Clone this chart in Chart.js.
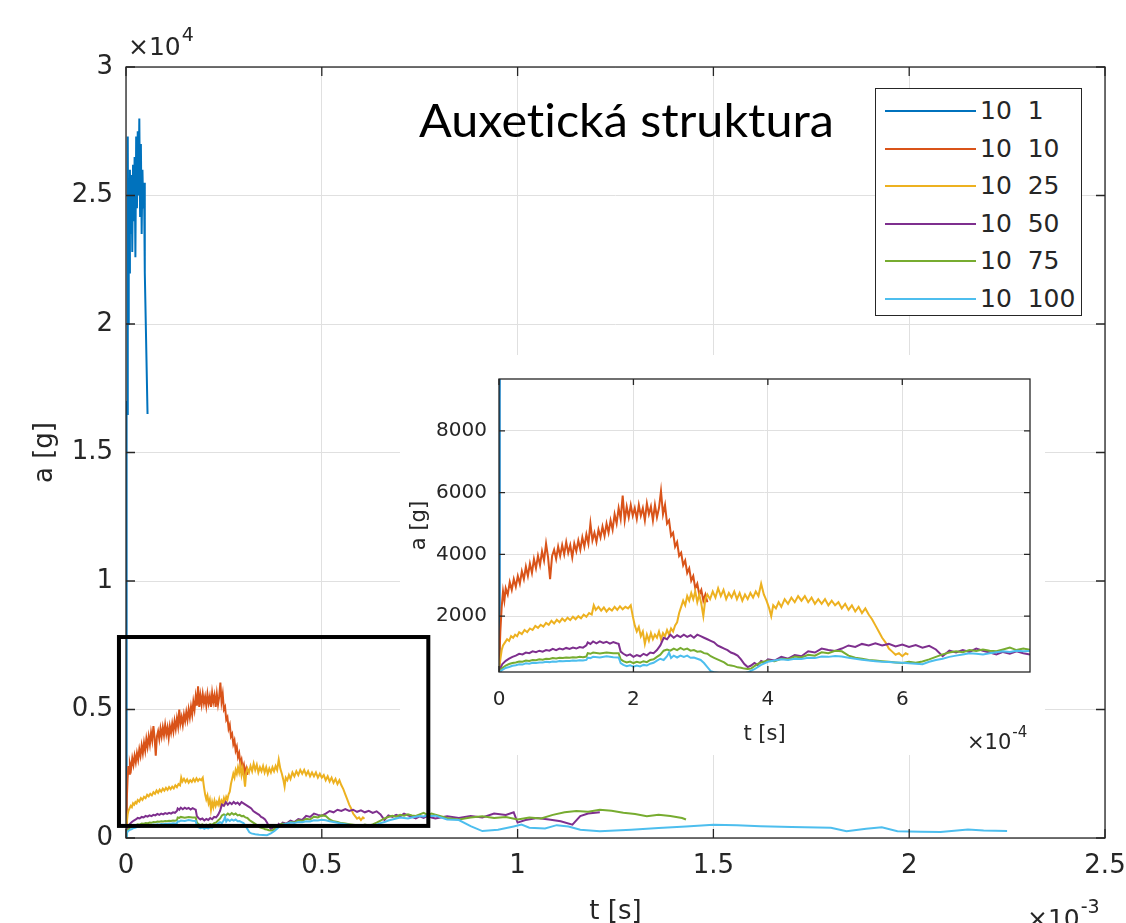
<!DOCTYPE html>
<html>
<head>
<meta charset="utf-8">
<script src="https://cdn.jsdelivr.net/npm/chart.js@4.4.1/dist/chart.umd.min.js"></script>
<style>
  body { margin: 0; background: #fff; }
  #wrap { position: relative; width: 1126px; height: 923px; overflow: hidden; }
  #mainChart { position: absolute; left: 0; top: 0; }
  #insetChart { position: absolute; left: 400px; top: 355px; }
  #title { position: absolute; left: 419px; top: 97px; font-family: Lato, sans-serif; font-size: 46px; line-height: 46px; color: #000; white-space: nowrap; transform: scaleX(1.055); transform-origin: left top; font-variant-ligatures: none; }
  #legend { position: absolute; left: 875px; top: 88px; width: 205px; height: 226px; border: 1.5px solid #262626; background: #fff; }
  #legend .row { position: absolute; left: 0; width: 205px; height: 26px; }
  #legend .swatch { position: absolute; left: 9px; top: 12px; width: 91px; height: 2px; }
  #legend .txt { position: absolute; left: 104px; top: 0; font-family: "DejaVu Sans", sans-serif; font-size: 25px; line-height: 26px; color: #262626; white-space: pre; }
</style>
</head>
<body>
<div id="wrap">
  <canvas id="mainChart" width="1126" height="923"></canvas>
  <canvas id="insetChart" width="645" height="400"></canvas>
  <div id="title">Auxetická struktura</div>
  <div id="legend"></div>
</div>
<script>
// series: [t in ms, a in g]
const seriesLabels = ['10  1', '10  10', '10  25', '10  50', '10  75', '10  100'];

const s1 = [[0,0],[0.001,9000],[0.002,17000],[0.003,16500],[0.004,24000],[0.005,27300],[0.006,20000],
  [0.007,25500],[0.008,22000],[0.010,26000],[0.012,23500],[0.014,25800],[0.016,22800],[0.018,26200],
  [0.020,24000],[0.022,26500],[0.024,22600],[0.026,27300],[0.028,24500],[0.030,27500],[0.032,25000],
  [0.034,28000],[0.036,24200],[0.038,27000],[0.040,23500],[0.042,26000],[0.044,24500],[0.046,25500],
  [0.048,22000],[0.055,16500]];

const s10 = [[0,300],[0.002,1500],[0.004,2300],[0.006,2800],[0.008,2500],[0.010,2900],[0.013,2700],
  [0.016,3100],[0.019,2850],[0.022,3200],[0.025,2950],[0.028,3300],[0.031,3050],[0.034,3450],[0.037,3200],
  [0.040,3600],[0.043,3300],[0.046,3700],[0.049,3400],[0.052,3850],[0.055,3550],[0.058,3950],[0.061,3650],
  [0.064,4100],[0.067,3800],[0.070,4350],[0.073,3900],[0.076,3200],[0.079,3950],[0.082,4150],[0.085,3850],
  [0.088,4250],[0.091,3950],[0.094,4300],[0.097,4000],[0.100,4400],[0.103,4050],[0.106,4300],[0.109,3900],
  [0.112,4350],[0.115,4100],[0.118,4450],[0.121,4150],[0.124,4550],[0.127,4250],[0.130,4650],[0.133,4350],
  [0.136,5000],[0.139,4450],[0.142,4700],[0.145,4400],[0.148,4800],[0.151,4550],[0.154,4900],[0.157,4600],
  [0.160,5000],[0.163,4700],[0.166,5100],[0.169,4800],[0.172,5300],[0.175,5000],[0.178,5500],[0.181,5150],
  [0.184,5900],[0.187,5100],[0.190,5550],[0.193,5200],[0.196,5600],[0.199,5250],[0.202,5500],[0.205,5150],
  [0.208,5600],[0.211,5250],[0.214,5500],[0.217,5100],[0.220,5650],[0.223,5300],[0.226,5550],[0.229,5100],
  [0.232,5600],[0.235,5200],[0.238,5500],[0.241,6050],[0.244,5300],[0.247,5600],[0.250,5000],[0.253,5100],
  [0.256,4600],[0.259,4700],[0.262,4250],[0.265,4400],[0.268,3950],[0.271,4050],[0.274,3650],[0.277,3800],
  [0.280,3400],[0.283,3550],[0.286,3150],[0.289,3300],[0.292,2900],[0.295,3050],[0.298,2700],[0.301,2850],
  [0.304,2500],[0.307,2700],[0.310,2450]];

const s25 = [[0,200],[0.002,600],[0.004,900],[0.006,1050],[0.009,1150],[0.012,1250],[0.015,1200],[0.018,1350],
  [0.021,1300],[0.024,1400],[0.027,1350],[0.030,1480],[0.034,1420],[0.038,1550],[0.042,1480],[0.046,1600],
  [0.050,1550],[0.054,1680],[0.058,1620],[0.062,1720],[0.066,1660],[0.070,1780],[0.074,1720],[0.078,1850],
  [0.082,1760],[0.086,1880],[0.090,1800],[0.094,1920],[0.098,1840],[0.102,1950],[0.106,1870],[0.110,1980],
  [0.114,1900],[0.118,2000],[0.122,1930],[0.126,2050],[0.130,1980],[0.134,2100],[0.138,2050],[0.141,2350],
  [0.144,2200],[0.148,2300],[0.152,2180],[0.156,2280],[0.160,2150],[0.164,2250],[0.168,2180],[0.172,2300],
  [0.176,2200],[0.180,2320],[0.184,2220],[0.188,2300],[0.192,2250],[0.196,2350],[0.199,2000],[0.202,1700],
  [0.205,1500],[0.208,1650],[0.211,1350],[0.214,1500],[0.217,1100],[0.220,1400],[0.223,1200],[0.226,1450],
  [0.229,1250],[0.232,1400],[0.235,1300],[0.238,1500],[0.241,1250],[0.244,1450],[0.247,1350],[0.250,1550],
  [0.253,1400],[0.256,1600],[0.259,1500],[0.262,1700],[0.265,1800],[0.268,2100],[0.271,2300],[0.274,2500],
  [0.277,2350],[0.280,2650],[0.283,2500],[0.286,2750],[0.289,2550],[0.292,2800],[0.295,2450],[0.298,2700],
  [0.301,2400],[0.304,2000],[0.307,2550],[0.310,2700],[0.314,2550],[0.318,2800],[0.322,2600],[0.326,2900],
  [0.330,2650],[0.334,2850],[0.338,2550],[0.342,2750],[0.346,2600],[0.350,2800],[0.354,2550],[0.358,2750],
  [0.362,2500],[0.366,2700],[0.370,2550],[0.374,2750],[0.378,2600],[0.382,2800],[0.386,2650],[0.390,3050],
  [0.394,2700],[0.398,2500],[0.402,2250],[0.405,2000],[0.408,2350],[0.412,2250],[0.416,2450],[0.420,2300],
  [0.425,2550],[0.430,2400],[0.435,2600],[0.440,2450],[0.445,2650],[0.450,2500],[0.455,2650],[0.460,2450],
  [0.465,2600],[0.470,2400],[0.475,2550],[0.480,2400],[0.485,2550],[0.490,2350],[0.495,2500],[0.500,2350],
  [0.505,2450],[0.510,2250],[0.515,2400],[0.520,2200],[0.525,2350],[0.530,2150],[0.535,2300],[0.540,2100],
  [0.545,2250],[0.550,2050],[0.555,1900],[0.560,1700],[0.565,1500],[0.570,1300],[0.575,1150],[0.580,950],
  [0.585,850],[0.590,750],[0.595,800],[0.600,700],[0.605,800],[0.609,750]];

const s50 = [[0,150],[0.002,300],[0.005,450],[0.010,550],[0.015,620],[0.020,680],[0.025,720],[0.030,780],
  [0.035,760],[0.040,820],[0.045,800],[0.050,860],[0.055,830],[0.060,880],[0.065,850],[0.070,900],[0.075,880],
  [0.080,940],[0.085,900],[0.090,950],[0.095,920],[0.100,970],[0.105,940],[0.110,980],[0.115,950],[0.120,1000],
  [0.125,980],[0.130,1050],[0.132,1150],[0.136,1100],[0.140,1180],[0.145,1120],[0.150,1180],[0.155,1130],
  [0.160,1170],[0.165,1110],[0.170,1160],[0.175,1120],[0.178,1100],[0.181,850],[0.185,780],[0.190,720],
  [0.195,760],[0.200,680],[0.205,740],[0.210,700],[0.215,780],[0.220,730],[0.225,820],[0.230,800],[0.235,900],
  [0.240,1050],[0.245,1300],[0.250,1250],[0.255,1400],[0.260,1300],[0.265,1380],[0.270,1320],[0.275,1400],
  [0.280,1330],[0.285,1380],[0.290,1300],[0.295,1400],[0.300,1350],[0.305,1300],[0.310,1250],[0.315,1200],
  [0.320,1150],[0.325,1050],[0.330,1000],[0.335,950],[0.340,900],[0.345,820],[0.350,780],[0.355,720],
  [0.360,600],[0.365,450],[0.370,350],[0.375,400],[0.380,480],[0.385,420],[0.390,550],[0.395,500],[0.400,600],
  [0.410,560],[0.420,680],[0.430,620],[0.440,740],[0.450,700],[0.460,860],[0.470,820],[0.480,950],[0.490,900],
  [0.500,870],[0.510,950],[0.520,1050],[0.530,1000],[0.540,1100],[0.550,1050],[0.560,1120],[0.570,1050],
  [0.580,1100],[0.590,1020],[0.600,1080],[0.610,1000],[0.620,1060],[0.630,980],[0.640,1040],[0.650,920],
  [0.660,700],[0.670,880],[0.680,820],[0.690,900],[0.700,840],[0.710,950],[0.720,880],[0.730,820],[0.740,760],
  [0.750,840],[0.760,780],[0.770,860],[0.780,800],[0.790,760],[0.820,850],[0.850,780],[0.880,860],[0.910,800],
  [0.940,950],[0.970,900],[0.990,1000],[1.000,600],[1.020,700],[1.050,780],[1.080,720],[1.110,650],
  [1.140,520],[1.160,850],[1.180,950],[1.210,1000]];

const s75 = [[0,100],[0.002,250],[0.005,320],[0.010,400],[0.015,450],[0.020,480],[0.025,500],[0.030,530],
  [0.035,520],[0.040,560],[0.045,550],[0.050,580],[0.055,570],[0.060,600],[0.065,590],[0.070,620],[0.075,610],
  [0.080,640],[0.085,630],[0.090,650],[0.095,640],[0.100,660],[0.105,650],[0.110,670],[0.115,660],[0.120,680],
  [0.125,670],[0.130,690],[0.132,800],[0.136,780],[0.140,820],[0.150,790],[0.160,820],[0.170,800],[0.178,800],
  [0.181,600],[0.185,540],[0.190,500],[0.195,530],[0.200,480],[0.205,520],[0.210,490],[0.215,540],[0.220,510],
  [0.225,580],[0.230,600],[0.235,680],[0.240,750],[0.245,880],[0.250,920],[0.255,880],[0.260,950],[0.265,900],
  [0.270,970],[0.275,910],[0.280,950],[0.285,880],[0.290,900],[0.295,850],[0.300,860],[0.305,800],[0.310,780],
  [0.315,700],[0.320,650],[0.325,600],[0.330,550],[0.335,500],[0.340,420],[0.345,400],[0.350,380],[0.355,340],
  [0.360,330],[0.365,300],[0.370,290],[0.375,300],[0.380,380],[0.385,450],[0.390,500],[0.400,560],[0.410,540],
  [0.420,620],[0.430,600],[0.440,690],[0.450,660],[0.460,750],[0.470,720],[0.480,830],[0.490,800],[0.500,880],
  [0.510,860],[0.520,720],[0.530,650],[0.540,620],[0.550,580],[0.560,560],[0.570,540],[0.580,520],[0.590,500],
  [0.600,480],[0.610,520],[0.620,490],[0.630,530],[0.640,600],[0.650,680],[0.660,760],[0.670,820],[0.680,860],
  [0.690,830],[0.700,900],[0.710,870],[0.720,920],[0.730,880],[0.740,860],[0.750,920],[0.760,980],[0.770,900],
  [0.780,950],[0.790,910],[0.820,780],[0.850,720],[0.880,800],[0.910,850],[0.940,780],[0.970,820],[1.000,720],
  [1.030,800],[1.060,760],[1.090,900],[1.120,1000],[1.150,1050],[1.180,1020],[1.210,1100],[1.240,1060],
  [1.270,980],[1.300,930],[1.330,850],[1.360,900],[1.390,860],[1.420,780],[1.430,720]];

const s100 = [[0,80],[0.002,200],[0.005,260],[0.010,320],[0.015,350],[0.020,390],[0.025,410],[0.030,440],
  [0.035,430],[0.040,470],[0.045,460],[0.050,490],[0.055,480],[0.060,500],[0.065,495],[0.070,520],[0.075,510],
  [0.080,530],[0.085,520],[0.090,545],[0.095,535],[0.100,550],[0.105,545],[0.110,560],[0.115,555],[0.120,570],
  [0.125,560],[0.130,580],[0.132,650],[0.136,640],[0.140,680],[0.150,660],[0.160,700],[0.170,670],[0.178,660],
  [0.181,480],[0.185,420],[0.190,380],[0.195,410],[0.200,360],[0.205,400],[0.210,370],[0.215,420],[0.220,400],
  [0.225,460],[0.230,490],[0.235,560],[0.240,620],[0.245,580],[0.250,700],[0.253,820],[0.256,640],[0.260,720],
  [0.265,660],[0.270,720],[0.275,680],[0.280,720],[0.285,650],[0.290,660],[0.295,620],[0.300,580],[0.305,480],
  [0.310,350],[0.315,220],[0.320,180],[0.330,150],[0.340,130],[0.350,120],[0.360,110],[0.370,180],[0.380,280],
  [0.390,420],[0.400,520],[0.410,560],[0.420,600],[0.430,580],[0.440,620],[0.450,610],[0.460,650],[0.470,640],
  [0.480,690],[0.490,680],[0.500,710],[0.510,690],[0.520,650],[0.530,620],[0.540,590],[0.550,560],[0.560,540],
  [0.570,520],[0.580,510],[0.590,500],[0.600,490],[0.610,470],[0.620,460],[0.630,440],[0.640,520],[0.650,580],
  [0.660,620],[0.670,680],[0.680,720],[0.690,760],[0.700,800],[0.710,780],[0.720,760],[0.730,800],[0.740,830],
  [0.750,860],[0.760,840],[0.770,880],[0.780,860],[0.790,870],[0.820,720],[0.850,700],[0.880,460],[0.910,270],
  [0.950,320],[0.990,450],[1.010,520],[1.030,400],[1.070,370],[1.100,500],[1.130,450],[1.160,320],[1.210,260],
  [1.290,320],[1.360,390],[1.430,450],[1.500,520],[1.560,500],[1.620,460],[1.700,430],[1.800,400],[1.840,260],
  [1.890,360],[1.930,420],[1.970,260],[2.030,240],[2.080,230],[2.150,330],[2.190,290],[2.250,270]];

const seriesData = [s1, s10, s25, s50, s75, s100];
const palette = ['#0072BD', '#D95319', '#EDB120', '#7E2F8E', '#77AC30', '#4DBEEE'];

// tick values of the inset axes (t in ms, a in g)
const insetTicksT = [0, 0.2, 0.4, 0.6];
const insetTicksA = [2000, 4000, 6000, 8000];

// zoomed region marked on the main axes (t in ms, a in g)
const zoomBoxT = [-0.018, 0.772];
const zoomBoxA = [470, 7820];

const axisColor = '#262626';
const gridColor = '#e0e0e0';
const font = '"DejaVu Sans", sans-serif';

function makeDatasets() {
    return seriesData.map((pts, i) => ({
        label: seriesLabels[i],
        data: pts.map(p => ({ x: p[0], y: p[1] })),
        borderColor: palette[i],
        borderWidth: 2,
        pointRadius: 0,
        fill: false,
        tension: 0,
        order: seriesData.length - i
    }));
}

function drawExp(ctx, x, base, sup, size, supSize, rise) {
    ctx.textAlign = 'left';
    ctx.font = size + 'px ' + font;
    ctx.fillText('×10', x, base);
    const w = ctx.measureText('×10').width;
    ctx.font = supSize + 'px ' + font;
    ctx.fillText(sup, x + w + 1, base - rise);
}

// keep the plot box where it is, whatever the tick labels overhang
function noOverhang(s) {
    s.paddingLeft = 0;
    s.paddingRight = 0;
}

const matlabAxes = {
    id: 'matlabAxes',
    beforeDatasetsDraw(chart, args, o) {
        if (!o.coverId) return;
        const el = document.getElementById(o.coverId);
        const ctx = chart.ctx;
        ctx.save();
        ctx.fillStyle = '#fff';
        ctx.fillRect(el.offsetLeft, el.offsetTop, el.width, el.height);
        ctx.restore();
    },
    afterDatasetsDraw(chart, args, o) {
        const { ctx, chartArea: a, scales: { x, y } } = chart;
        ctx.save();
        ctx.strokeStyle = axisColor;
        ctx.lineWidth = 1.3;
        ctx.beginPath();
        x.ticks.forEach(t => {
            const p = x.getPixelForValue(t.value);
            ctx.moveTo(p, a.bottom); ctx.lineTo(p, a.bottom - o.tickLen);
            ctx.moveTo(p, a.top); ctx.lineTo(p, a.top + o.tickLen);
        });
        y.ticks.forEach(t => {
            const p = y.getPixelForValue(t.value);
            ctx.moveTo(a.left, p); ctx.lineTo(a.left + o.tickLen, p);
            ctx.moveTo(a.right, p); ctx.lineTo(a.right - o.tickLen, p);
        });
        ctx.stroke();
        ctx.strokeRect(a.left, a.top, a.right - a.left, a.bottom - a.top);

        if (o.zoomBox) {
            const x0 = x.getPixelForValue(zoomBoxT[0]), x1 = x.getPixelForValue(zoomBoxT[1]);
            const y0 = y.getPixelForValue(zoomBoxA[1]), y1 = y.getPixelForValue(zoomBoxA[0]);
            ctx.strokeStyle = '#000';
            ctx.lineWidth = 4;
            ctx.strokeRect(x0, y0, x1 - x0, y1 - y0);
        }

        ctx.fillStyle = axisColor;
        ctx.font = o.titleSize + 'px ' + font;
        ctx.textAlign = 'center';
        ctx.textBaseline = 'alphabetic';
        ctx.fillText('t [s]', (a.left + a.right) / 2, a.bottom + o.xTitleGap);
        ctx.save();
        ctx.translate(a.left - o.yTitleGap, (a.top + a.bottom) / 2);
        ctx.rotate(-Math.PI / 2);
        ctx.textBaseline = 'middle';
        ctx.fillText('a [g]', 0, 0);
        ctx.restore();

        o.exps.forEach(e => {
            const ex = e.fromRight ? a.right + e.dx : a.left + e.dx;
            const ey = e.fromBottom ? a.bottom + e.dy : a.top + e.dy;
            drawExp(ctx, ex, ey, e.sup, e.size, e.supSize, e.rise);
        });
        ctx.restore();
    }
};

Chart.defaults.font.family = font;
Chart.defaults.color = axisColor;

new Chart(document.getElementById('mainChart'), {
    type: 'line',
    data: { datasets: makeDatasets() },
    options: {
        responsive: false,
        animation: false,
        events: [],
        layout: { padding: { top: 67, right: 21, left: 0, bottom: 0 } },
        plugins: {
            legend: { display: false },
            tooltip: { enabled: false },
            matlabAxes: {
                coverId: 'insetChart',
                zoomBox: true,
                tickLen: 9,
                titleSize: 26,
                xTitleGap: 81,
                yTitleGap: 81,
                exps: [
                    { sup: '4', dx: 2, dy: -12, size: 25, supSize: 19, rise: 14 },
                    { sup: '-3', fromRight: true, fromBottom: true, dx: -78, dy: 89, size: 25, supSize: 19, rise: 14 }
                ]
            }
        },
        scales: {
            x: {
                type: 'linear', min: 0, max: 2.5,
                afterFit: s => { s.height = 85; noOverhang(s); },
                grid: { color: gridColor, drawTicks: false },
                border: { display: false },
                ticks: { stepSize: 0.5, padding: 13, maxRotation: 0, font: { size: 26 },
                    callback: v => String(Math.round(v * 10) / 10) }
            },
            y: {
                min: 0, max: 30000,
                afterFit: s => { s.width = 126; },
                grid: { color: gridColor, drawTicks: false },
                border: { display: false },
                ticks: { stepSize: 5000, padding: 13, font: { size: 26 },
                    callback: v => String(v / 10000) }
            }
        }
    },
    plugins: [matlabAxes]
});

new Chart(document.getElementById('insetChart'), {
    type: 'line',
    data: { datasets: makeDatasets() },
    options: {
        responsive: false,
        animation: false,
        events: [],
        layout: { padding: { top: 12, right: 15, left: 0, bottom: 0 } },
        plugins: {
            legend: { display: false },
            tooltip: { enabled: false },
            matlabAxes: {
                tickLen: 6,
                titleSize: 21,
                xTitleGap: 68,
                yTitleGap: 79,
                exps: [
                    { sup: '-4', fromRight: true, fromBottom: true, dx: -63, dy: 77, size: 21, supSize: 15, rise: 12 }
                ]
            }
        },
        scales: {
            x: {
                type: 'linear', min: 0, max: 0.79,
                afterFit: s => { s.height = 83; noOverhang(s); },
                afterBuildTicks: s => { s.ticks = insetTicksT.map(v => ({ value: v })); },
                grid: { color: gridColor, drawTicks: false },
                border: { display: false },
                ticks: { padding: 16, maxRotation: 0, font: { size: 20 },
                    callback: v => String(Math.round(v * 10)) }
            },
            y: {
                min: 190, max: 9680,
                afterFit: s => { s.width = 99; },
                afterBuildTicks: s => { s.ticks = insetTicksA.map(v => ({ value: v })); },
                grid: { color: gridColor, drawTicks: false },
                border: { display: false },
                ticks: { padding: 12, font: { size: 20 }, callback: v => String(v) }
            }
        }
    },
    plugins: [matlabAxes]
});

// legend box built from the series
const legendEl = document.getElementById('legend');
seriesLabels.forEach((lab, i) => {
    const row = document.createElement('div');
    row.className = 'row';
    row.style.top = (9 + i * 37.6) + 'px';
    const sw = document.createElement('div');
    sw.className = 'swatch';
    sw.style.background = palette[i];
    const tx = document.createElement('div');
    tx.className = 'txt';
    tx.textContent = lab;
    row.appendChild(sw);
    row.appendChild(tx);
    legendEl.appendChild(row);
});
</script>
</body>
</html>
